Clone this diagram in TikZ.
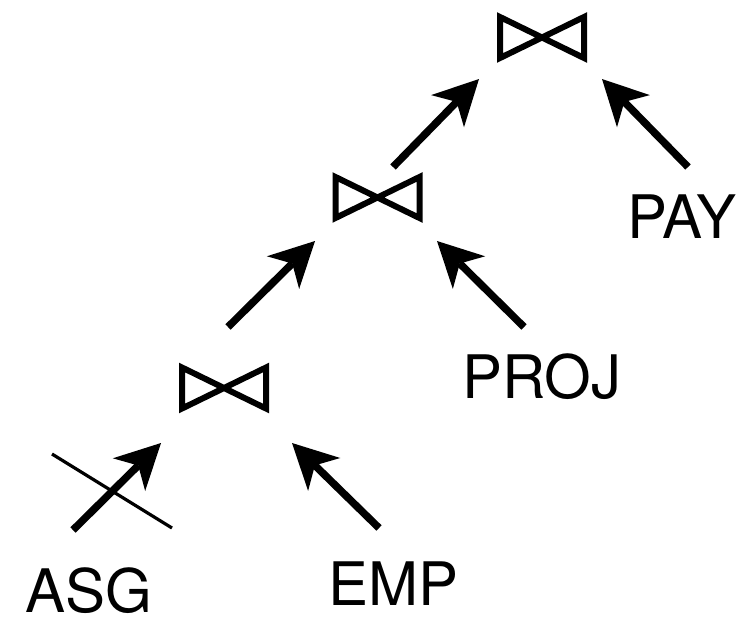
\documentclass[tikz,border=0pt]{standalone}
\usepackage{fontspec}
\setmainfont{TeX Gyre Heros}
\usetikzlibrary{arrows.meta}

\tikzset{
  rel/.style={font=\fontsize{60}{60}\selectfont, inner sep=0pt,
    text depth=0pt, anchor=base west},
  flow/.style={line width=7.5pt, line cap=butt,
    -{Stealth[length=45pt, width=46pt, inset=13pt, line width=0pt]}},
  strike/.style={line width=3.2pt, line cap=butt},
  bowtie/.pic={
    \coordinate (-c) at (0,0);
    \draw[line width=6pt, line join=miter, miter limit=10]
      (-42,-20.5) -- (42,20.5) -- (42,-20.5) -- (-42,20.5) -- cycle;
  }
}

\begin{document}
\begin{tikzpicture}[x=1pt, y=-1pt]
  \useasboundingbox (0,0) rectangle (738,616);

  % join operators
  \pic (j3) at (542,37.5) {bowtie};
  \pic (j2) at (377.5,197.5) {bowtie};
  \pic (j1) at (224,388) {bowtie};

  % relations
  \node[rel] (asg)  at (25,612)  {ASG};
  \node[rel] (emp)  at (328,605) {EMP};
  \node[rel] (proj) at (462,398) {PROJ};
  \node[rel] (pay)  at (627,238) {PAY};

  % arrow end points
  \coordinate (asgS)  at (73,530);   \coordinate (asgT)  at (161,443);
  \coordinate (empS)  at (379,528);  \coordinate (empT)  at (292,443);
  \coordinate (j1S)   at (228,327);  \coordinate (j1T)   at (315,241);
  \coordinate (projS) at (524,327);  \coordinate (projT) at (437,241);
  \coordinate (j2S)   at (393,167);  \coordinate (j2T)   at (479,79);
  \coordinate (payS)  at (688,167);  \coordinate (payT)  at (602,79);

  \draw[flow] (asgS) -- (asgT);
  \draw[flow] (empS) -- (empT);
  \draw[flow] (j1S) -- (j1T);
  \draw[flow] (projS) -- (projT);
  \draw[flow] (j2S) -- (j2T);
  \draw[flow] (payS) -- (payT);

  % struck-out input
  \coordinate (xA) at (52,454);
  \coordinate (xB) at (172,528);
  \draw[strike] (xA) -- (xB);
\end{tikzpicture}
\end{document}
